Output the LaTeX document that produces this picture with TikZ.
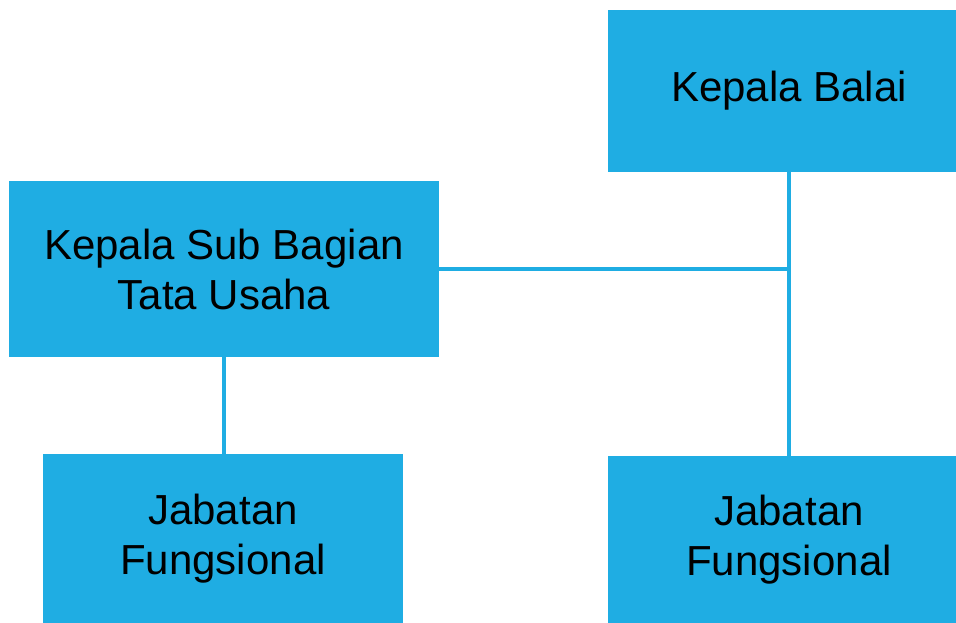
\documentclass[tikz,border=0pt]{standalone}
\usepackage{fontspec}
\setmainfont{Liberation Sans}
\usepackage{tikz}
\usetikzlibrary{positioning}
\usetikzlibrary{calc}

\definecolor{balaiblue}{RGB}{31,173,227}

\begin{document}
\begin{tikzpicture}[x=1pt, y=-1pt, node distance=0pt,
    unitbox/.style={rectangle, fill=balaiblue, draw=none, inner sep=0pt, align=center,
        font=\fontsize{42}{50}\selectfont, text=black},
    link/.style={draw=balaiblue, line width=3.5pt}]
    \useasboundingbox (0,0) rectangle (956,622);
    \clip (0,0) rectangle (956,622);

    % the boxes
    \node at (789, 91)[unitbox, minimum width=362pt, minimum height=162pt] (kepalaBalai) {Kepala Balai};
    \node at (224, 269)[unitbox, minimum width=430pt, minimum height=176pt] (subBagian) {Kepala Sub Bagian\\Tata Usaha};
    \node at (223, 539)[unitbox, minimum width=360pt, minimum height=170pt] (jabatanKiri) {Jabatan\\Fungsional};
    \node at (789, 540)[unitbox, minimum width=362pt, minimum height=168pt] (jabatanKanan) {Jabatan\\Fungsional};

    % the lines
    \draw [link](kepalaBalai) -- (jabatanKanan);
    \draw [link](subBagian.east) -- (subBagian.east -| kepalaBalai.south);
    \draw [link](subBagian.south) -- (subBagian.south |- jabatanKiri.north);
\end{tikzpicture}
\end{document}
